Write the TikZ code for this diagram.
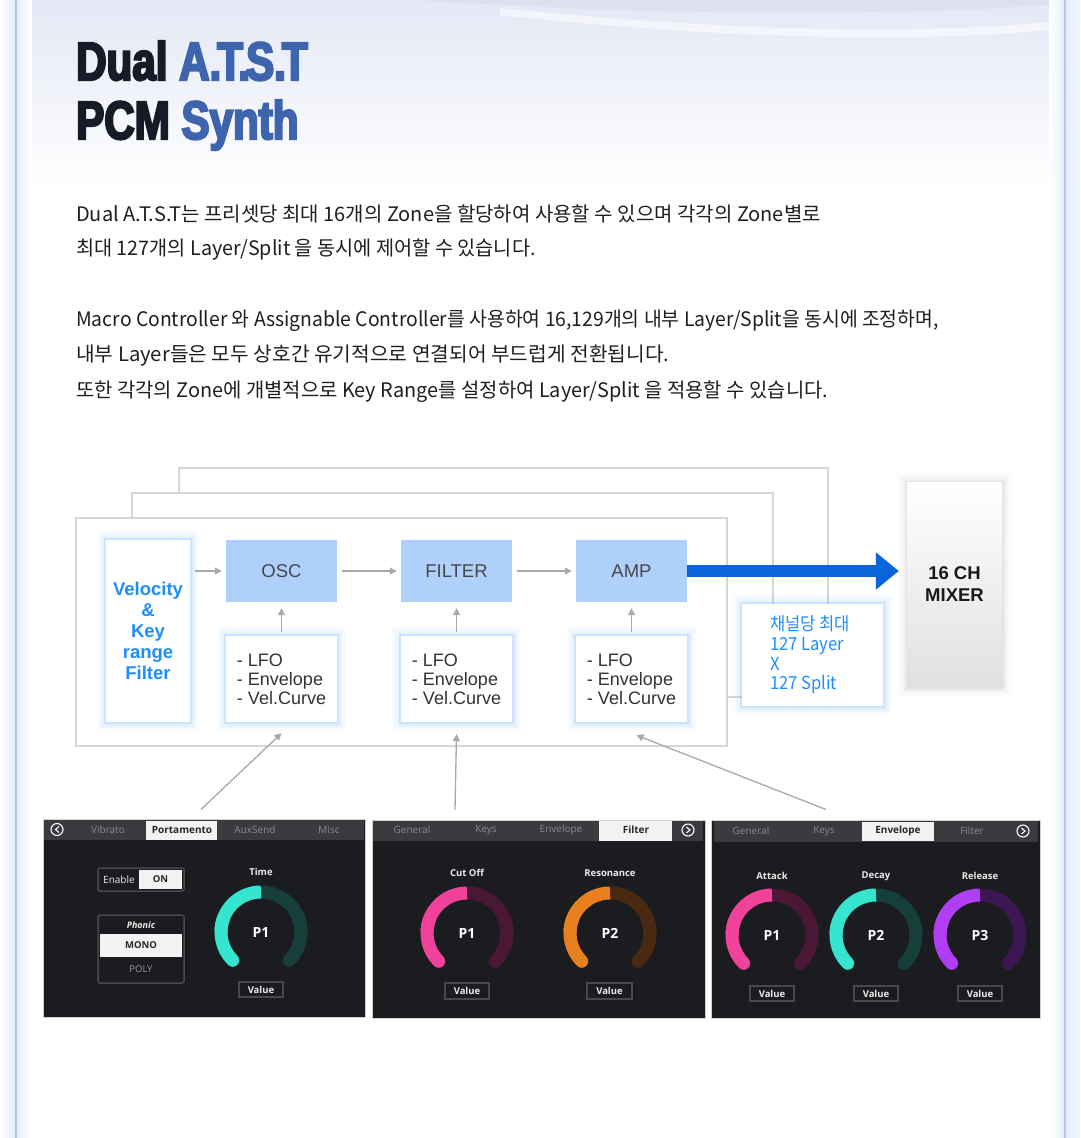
\documentclass[tikz,border=0pt]{standalone}
\usepackage{fontspec}
\setmainfont{Liberation Sans}
\newfontfamily\kr{Noto Sans CJK KR}
\newfontfamily\krn{Noto Sans CJK KR}[FakeStretch=0.92]
\newfontfamily\titlefont{Liberation Sans Bold}[FakeStretch=0.78, FakeBold=4]
\newfontfamily\ui{Open Sans}
\usetikzlibrary{calc,arrows.meta}
\definecolor{hdr}{HTML}{E4E8F5}
\definecolor{hdrdark}{HTML}{DADFF0}
\definecolor{sideglow}{HTML}{E3ECFB}
\definecolor{sideline}{HTML}{BAC4E0}
\definecolor{titledark}{HTML}{171B28}
\definecolor{titleblue}{HTML}{3E64AE}
\definecolor{bodytext}{HTML}{1F1F1F}
\definecolor{zoneline}{HTML}{D6D6D6}
\definecolor{modblue}{HTML}{B0D0FC}
\definecolor{glowc}{HTML}{5AA8FF}
\definecolor{velblue}{HTML}{1E8EFF}
\definecolor{boxtext}{HTML}{333333}
\definecolor{arrowgray}{HTML}{A9A9A9}
\definecolor{bigblue}{HTML}{0A66D8}
\definecolor{mixgray}{HTML}{E0E0E0}
\definecolor{panelbg}{HTML}{1B1C20}
\definecolor{tabbar}{HTML}{3A3B3E}
\definecolor{tabtext}{HTML}{8A8A8A}
\definecolor{ctlline}{HTML}{48494D}
\definecolor{kteal}{HTML}{35E5D0}
\definecolor{ktealdk}{HTML}{163F3B}
\definecolor{kpink}{HTML}{F0429A}
\definecolor{kpinkdk}{HTML}{4A1734}
\definecolor{korange}{HTML}{E8801F}
\definecolor{korangedk}{HTML}{4A2913}
\definecolor{kpurple}{HTML}{B03EF5}
\definecolor{kpurpledk}{HTML}{3B1650}
\newcommand{\knobdraw}[5]{%
  \coordinate (#1) at #2;
  \draw[#4, line width=13pt, line cap=round] ($(#1)+(-45:40pt)$) arc[start angle=-45, end angle=20, radius=40pt];
  \draw[#4, line width=13pt] ($(#1)+(0:40pt)$) arc[start angle=0, end angle=90, radius=40pt];
  \draw[#3, line width=13pt, line cap=round] ($(#1)+(225:40pt)$) arc[start angle=225, end angle=160, radius=40pt];
  \draw[#3, line width=13pt] ($(#1)+(180:40pt)$) arc[start angle=180, end angle=90, radius=40pt];
  \node[knoblabel] (#1-p) at (#1) {#5};
}
\begin{document}
\begin{tikzpicture}[x=1pt, y=-1pt,
  body/.style={inner sep=0pt, anchor=base west, text=bodytext, font=\kr\fontsize{20}{24}\selectfont},
  zone/.style={draw=zoneline, line width=1.5pt, fill=white},
  glowbox/.style={fill=white, inner sep=0pt,
    preaction={draw=glowc, draw opacity=0.04, line width=18pt},
    preaction={draw=glowc, draw opacity=0.06, line width=12pt},
    preaction={draw=glowc, draw opacity=0.09, line width=7pt},
    preaction={draw=glowc, draw opacity=0.14, line width=3.5pt}},
  modbox/.style={fill=modblue, inner sep=0pt, minimum width=111pt, minimum height=62pt,
    text=boxtext!90!white, font=\fontsize{18.5}{20}\selectfont},
  lfobox/.style={glowbox, minimum width=111pt, minimum height=86pt, align=left,
    text=boxtext, font=\fontsize{18}{19}\selectfont},
  garrow/.style={draw=arrowgray, line width=1.3pt, -{Triangle[length=7pt,width=7pt]}},
  panel/.style={fill=panelbg, draw=black!18, line width=1pt, inner sep=0pt},
  tab/.style={inner sep=0pt, text=tabtext, font=\ui\fontsize{10}{12}\selectfont},
  tabsel/.style={inner sep=0pt, text=black!85, font=\ui\bfseries\fontsize{10}{12}\selectfont},
  ctl/.style={draw=ctlline, line width=1.5pt, rounded corners=2pt},
  wlabel/.style={inner sep=0pt, text=white!92!black, font=\ui\bfseries\fontsize{9.5}{11}\selectfont},
  knoblabel/.style={inner sep=0pt, text=white, font=\ui\bfseries\fontsize{14}{16}\selectfont},
  valbox/.style={draw=ctlline, line width=1.3pt},
  icon/.style={circle, draw=white, line width=1.1pt, minimum size=12pt, inner sep=0pt}
]
\useasboundingbox (0,0) rectangle (1080,1138);
\fill[white] (0,0) rectangle (1080,1138);
% header
\shade[top color=hdr, bottom color=white] (0,0) rectangle (1080,190);
\fill[hdrdark, opacity=0.7] (420,0) .. controls (650,16) and (900,16) .. (1065,4) -- (1065,0) -- cycle;
\fill[white, opacity=0.55] (500,8) .. controls (750,34) and (950,34) .. (1065,20) -- (1065,28) .. controls (950,42) and (750,42) .. (500,15) -- cycle;
% side glow lines
\shade[left color=white, right color=sideglow] (0,0) rectangle (16,1138);
\shade[left color=sideglow, right color=white] (16,0) rectangle (32,1138);
\shade[left color=white, right color=sideglow] (1049,0) rectangle (1065,1138);
\shade[left color=sideglow, right color=white!60!sideglow] (1065,0) rectangle (1080,1138);
\draw[sideline, line width=2pt] (16,0) -- (16,1138);
\draw[sideline, line width=2pt] (1065,0) -- (1065,1138);

% title
\node[inner sep=0pt, anchor=base west, font=\titlefont\fontsize{54}{60}\selectfont] (title1) at (76,80)
  {\textcolor{titledark}{Dual} \textcolor{titleblue}{A.\kern-4pt T.\kern-4pt S.\kern-4pt T}};
\node[inner sep=0pt, anchor=base west, font=\titlefont\fontsize{54}{60}\selectfont] (title2) at (76,139)
  {\textcolor{titledark}{PCM} \textcolor{titleblue}{Synth}};

% body text
\node[body] (b1) at (76,221) {Dual A.T.S.T는 프리셋당 최대 16개의 Zone을 할당하여 사용할 수 있으며 각각의 Zone별로};
\node[body] (b2) at (76,255) {\scalebox{0.986}[1]{최대 127개의 Layer/Split 을 동시에 제어할 수 있습니다.}};
\node[body] (b3) at (76,326) {\scalebox{0.968}[1]{Macro Controller 와 Assignable Controller를 사용하여 16,129개의 내부 Layer/Split을 동시에 조정하며,}};
\node[body] (b4) at (76,361) {\scalebox{1.014}[1]{내부 Layer들은 모두 상호간 유기적으로 연결되어 부드럽게 전환됩니다.}};
\node[body] (b5) at (76,397) {\scalebox{0.995}[1]{또한 각각의 Zone에 개별적으로 Key Range를 설정하여 Layer/Split 을 적용할 수 있습니다.}};

% zone frames
\draw[zone] (179,468) rectangle (828,680);
\draw[zone] (132,493) rectangle (773,697);
\draw[zone] (76,518) rectangle (727,746);

% blocks
\node[glowbox, minimum width=84pt, minimum height=182pt, align=center, text=velblue,
  font=\bfseries\fontsize{18.5}{21}\selectfont] (vel) at (148,631) {Velocity\\\&\\Key\\range\\Filter};
\node[modbox] (osc) at (281.5,571) {OSC};
\node[modbox] (flt) at (456.5,571) {FILTER};
\node[modbox] (amp) at (631.5,571) {AMP};
\node[lfobox] (m1) at (281.5,679) {- LFO\\- Envelope\\- Vel.Curve};
\node[lfobox] (m2) at (456.5,679) {- LFO\\- Envelope\\- Vel.Curve};
\node[lfobox] (m3) at (631.5,679) {- LFO\\- Envelope\\- Vel.Curve};
\node[glowbox, minimum width=141pt, minimum height=102pt] (chan) at (812.5,655) {};
\node[inner sep=0pt, anchor=west, align=left, text=velblue, font=\krn\fontsize{18}{19.7}\selectfont]
  (chantext) at ([xshift=28pt]chan.west) {채널당 최대\\127 Layer\\X\\127 Split};
\node[top color=white, bottom color=mixgray, minimum width=95pt, minimum height=205pt, inner sep=0pt,
  align=center, font=\bfseries\fontsize{18.5}{22}\selectfont, text=black!90,
  preaction={draw=black, draw opacity=0.015, line width=18pt},
  preaction={draw=black, draw opacity=0.02, line width=12pt},
  preaction={draw=black, draw opacity=0.03, line width=7pt},
  preaction={draw=black, draw opacity=0.04, line width=3pt}] (mixer) at (954.5,584.5) {16 CH\\MIXER};

% connectors
\draw[garrow] ($(vel.east |- osc.west)+(5pt,0)$) -- ([xshift=-4pt]osc.west);
\draw[garrow] ([xshift=5pt]osc.east) -- ([xshift=-4pt]flt.west);
\draw[garrow] ([xshift=5pt]flt.east) -- ([xshift=-4pt]amp.west);
\draw[garrow] ([yshift=4pt]m1.north) -- ([yshift=-6pt]osc.south);
\draw[garrow] ([yshift=4pt]m2.north) -- ([yshift=-6pt]flt.south);
\draw[garrow] ([yshift=4pt]m3.north) -- ([yshift=-6pt]amp.south);
\draw[bigblue, line width=12pt, -{Triangle[length=23pt,width=36pt]}, shorten >=8pt] (amp.east) -- (amp.east -| mixer.west);

% panels
\node[panel, minimum width=322pt, minimum height=198pt] (pan1) at (204,918) {};
\node[panel, minimum width=333pt, minimum height=198pt] (pan2) at (538.5,919) {};
\node[panel, minimum width=329pt, minimum height=198pt] (pan3) at (875.5,919) {};

\draw[garrow] ([shift={(-3pt,9pt)}]pan1.north) -- ([yshift=-11pt]m1.south);
\draw[garrow] ([shift={(-83.5pt,10pt)}]pan2.north) -- ([yshift=-12pt]m2.south);
\draw[garrow] ([shift={(-49.5pt,10pt)}]pan3.north) -- ([shift={(5pt,-13pt)}]m3.south);

% panel 1
\fill[tabbar] (44,820) rectangle (364,840);
\fill[white!95!black] (146,821) rectangle (217,840);
\node[icon] (ic1) at (57,829.5) {};
\draw[white, line width=1.1pt] (59,826.5) -- (55.5,829.5) -- (59,832.5);
\node[tab] (t11) at (108,829.5) {Vibrato};
\node[tabsel] (t12) at (182,829.5) {Portamento};
\node[tab] (t13) at (255,829.5) {AuxSend};
\node[tab] (t14) at (329,829.5) {Misc};
\draw[ctl] (98,868) rectangle (184,891);
\fill[white!95!black] (139,870) rectangle (182,889);
\node[wlabel, font=\ui\fontsize{10}{12}\selectfont] (en) at (119,879.5) {Enable};
\node[wlabel, text=black!85] (on) at (160.5,879.5) {ON};
\draw[ctl] (98,915) rectangle (184,983);
\node[wlabel, font=\ui\bfseries\itshape\fontsize{9}{11}\selectfont] (ph) at (141,925) {Phonic};
\fill[white!95!black] (100,934) rectangle (182,957);
\node[wlabel, text=black!85] (mono) at (141,945.5) {MONO};
\node[wlabel, text=gray!80, font=\ui\fontsize{9.5}{11}\selectfont] (poly) at (141,969) {POLY};
\node[wlabel] (lt) at (261,872) {Time};
\knobdraw{k1}{(261,932)}{kteal}{ktealdk}{P1}
\draw[valbox] (239,982) rectangle (283,997);
\node[wlabel] (v1) at (261,989.5) {Value};

% panel 2
\fill[tabbar] (373,821) rectangle (703,841);
\fill[white!95!black] (599,821) rectangle (672,841);
\node[tab] (t21) at (412,830) {General};
\node[tab] (t22) at (486,830) {Keys};
\node[tab] (t23) at (561,830) {Envelope};
\node[tabsel] (t24) at (636,830) {Filter};
\node[icon] (ic2) at (688,830) {};
\draw[white, line width=1.1pt] (686.5,827) -- (690,830) -- (686.5,833);
\node[wlabel] (l21) at (467,873) {Cut Off};
\node[wlabel] (l22) at (610,873) {Resonance};
\knobdraw{k21}{(467,933)}{kpink}{kpinkdk}{P1}
\knobdraw{k22}{(610,933)}{korange}{korangedk}{P2}
\draw[valbox] (445,983) rectangle (489,999);
\node[wlabel] (v21) at (467,991) {Value};
\draw[valbox] (587,983) rectangle (632,999);
\node[wlabel] (v22) at (609.5,991) {Value};

% panel 3
\fill[tabbar] (714,821) rectangle (1038,842);
\fill[white!95!black] (862,822) rectangle (934,841);
\node[tab] (t31) at (751,831) {General};
\node[tab] (t32) at (824,831) {Keys};
\node[tabsel] (t33) at (898,831) {Envelope};
\node[tab] (t34) at (972,831) {Filter};
\node[icon] (ic3) at (1023,831) {};
\draw[white, line width=1.1pt] (1021.5,828) -- (1025,831) -- (1021.5,834);
\node[wlabel] (l31) at (772,876) {Attack};
\node[wlabel] (l32) at (876,876) {Decay};
\node[wlabel] (l33) at (980,876) {Release};
\knobdraw{k31}{(772,935)}{kpink}{kpinkdk}{P1}
\knobdraw{k32}{(876,935)}{kteal}{ktealdk}{P2}
\knobdraw{k33}{(980,935)}{kpurple}{kpurpledk}{P3}
\draw[valbox] (750,986) rectangle (794,1001);
\node[wlabel] (v31) at (772,993.5) {Value};
\draw[valbox] (854,986) rectangle (898,1001);
\node[wlabel] (v32) at (876,993.5) {Value};
\draw[valbox] (958,986) rectangle (1002,1001);
\node[wlabel] (v33) at (980,993.5) {Value};
\end{tikzpicture}
\end{document}
